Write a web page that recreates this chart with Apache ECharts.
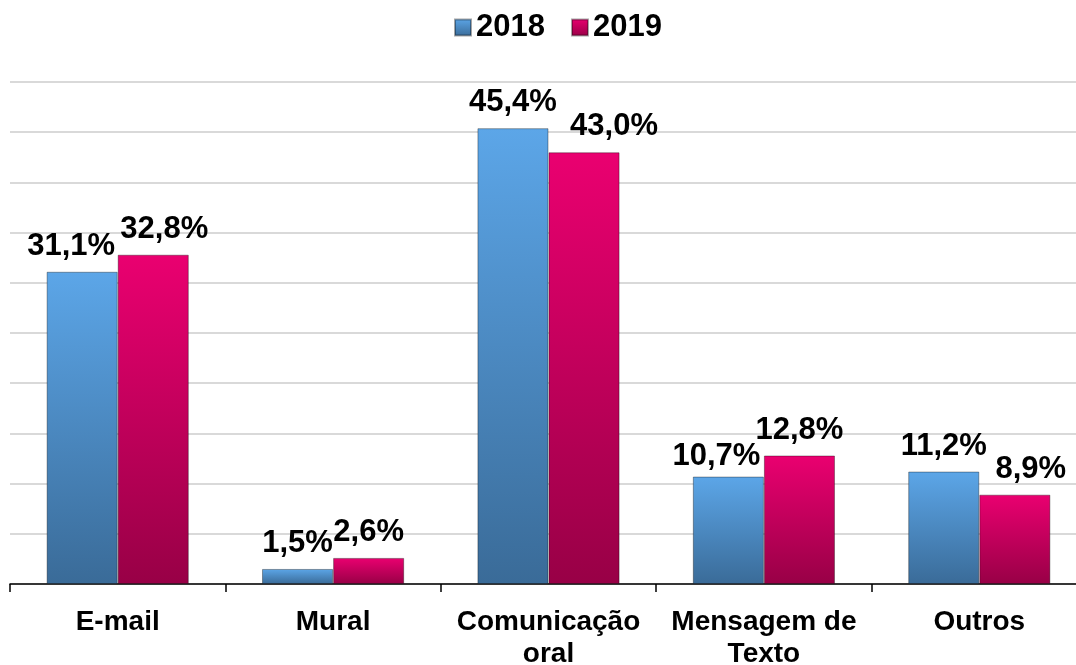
<!DOCTYPE html>
<html>
<head>
<meta charset="utf-8">
<script src="https://cdn.jsdelivr.net/npm/echarts@6/dist/echarts.min.js"></script>
<style>
  html, body { margin: 0; padding: 0; background: #fff; }
  #main { width: 1076px; height: 665px; }
</style>
</head>
<body>
<div id="main"></div>
<script>
// categorias e valores (%)
const categories = ['E-mail', 'Mural', 'Comunicação\noral', 'Mensagem de\nTexto', 'Outros'];
const values2018 = [31.1, 1.5, 45.4, 10.7, 11.2];
const values2019 = [32.8, 2.6, 43.0, 12.8, 8.9];

// ajustes de posição dos rótulos (como no gráfico original)
const offsets2018 = [[-11, 0], [0, 0], [0, 0], [-12, 5], [0, 0]];
const offsets2019 = [[11, 0], [0, 0], [30, 0], [0, 0], [16, 0]];

const fmt = v => v.toFixed(1).replace('.', ',') + '%';

const grad = (top, bottom) => new echarts.graphic.LinearGradient(0, 0, 0, 1, [
    { offset: 0, color: top },
    { offset: 1, color: bottom }
]);

const makeSeries = (name, values, offs, top, bottom) => ({
    name: name,
    type: 'bar',
    barGap: '0%',
    barCategoryGap: '34%',
    itemStyle: {
        color: grad(top, bottom),
        borderColor: 'rgba(0,0,0,0.35)',
        borderWidth: 1
    },
    label: {
        show: true,
        position: 'top',
        distance: 10,
        fontFamily: 'Liberation Sans, Arial, sans-serif',
        fontWeight: 'bold',
        fontSize: 31,
        color: '#000',
        formatter: p => fmt(p.value)
    },
    data: values.map((v, i) => ({ value: v, label: { offset: offs[i] } }))
});

const chart = echarts.init(document.getElementById('main'), null, { renderer: 'canvas' });

chart.setOption({
    animation: false,
    textStyle: { fontFamily: 'Liberation Sans, Arial, sans-serif' },
    legend: {
        top: 7,
        left: 449,
        itemWidth: 16,
        itemHeight: 16,
        itemGap: 26,
        icon: 'rect',
        textStyle: { fontSize: 31, fontWeight: 'bold', color: '#000' },
        data: ['2018', '2019']
    },
    grid: {
        left: 10,
        right: -11,
        top: 82,
        bottom: 81,
        containLabel: false,
        outerBoundsMode: 'none'
    },
    xAxis: {
        type: 'category',
        data: categories,
        axisLine: { lineStyle: { color: '#000', width: 1.5 } },
        axisTick: { show: true, length: 8, lineStyle: { color: '#000', width: 1.5 } },
        axisLabel: {
            margin: 22,
            fontSize: 28,
            fontWeight: 'bold',
            color: '#000',
            lineHeight: 32,
            interval: 0
        }
    },
    yAxis: {
        type: 'value',
        min: 0,
        max: 50,
        interval: 5,
        axisLabel: { show: false },
        axisLine: { show: false },
        axisTick: { show: false },
        splitLine: { lineStyle: { color: '#d9d9d9', width: 2 } }
    },
    series: [
        makeSeries('2018', values2018, offsets2018, '#5ca6e8', '#3a6b98'),
        makeSeries('2019', values2019, offsets2019, '#ea0070', '#980046')
    ]
});
</script>
</body>
</html>
